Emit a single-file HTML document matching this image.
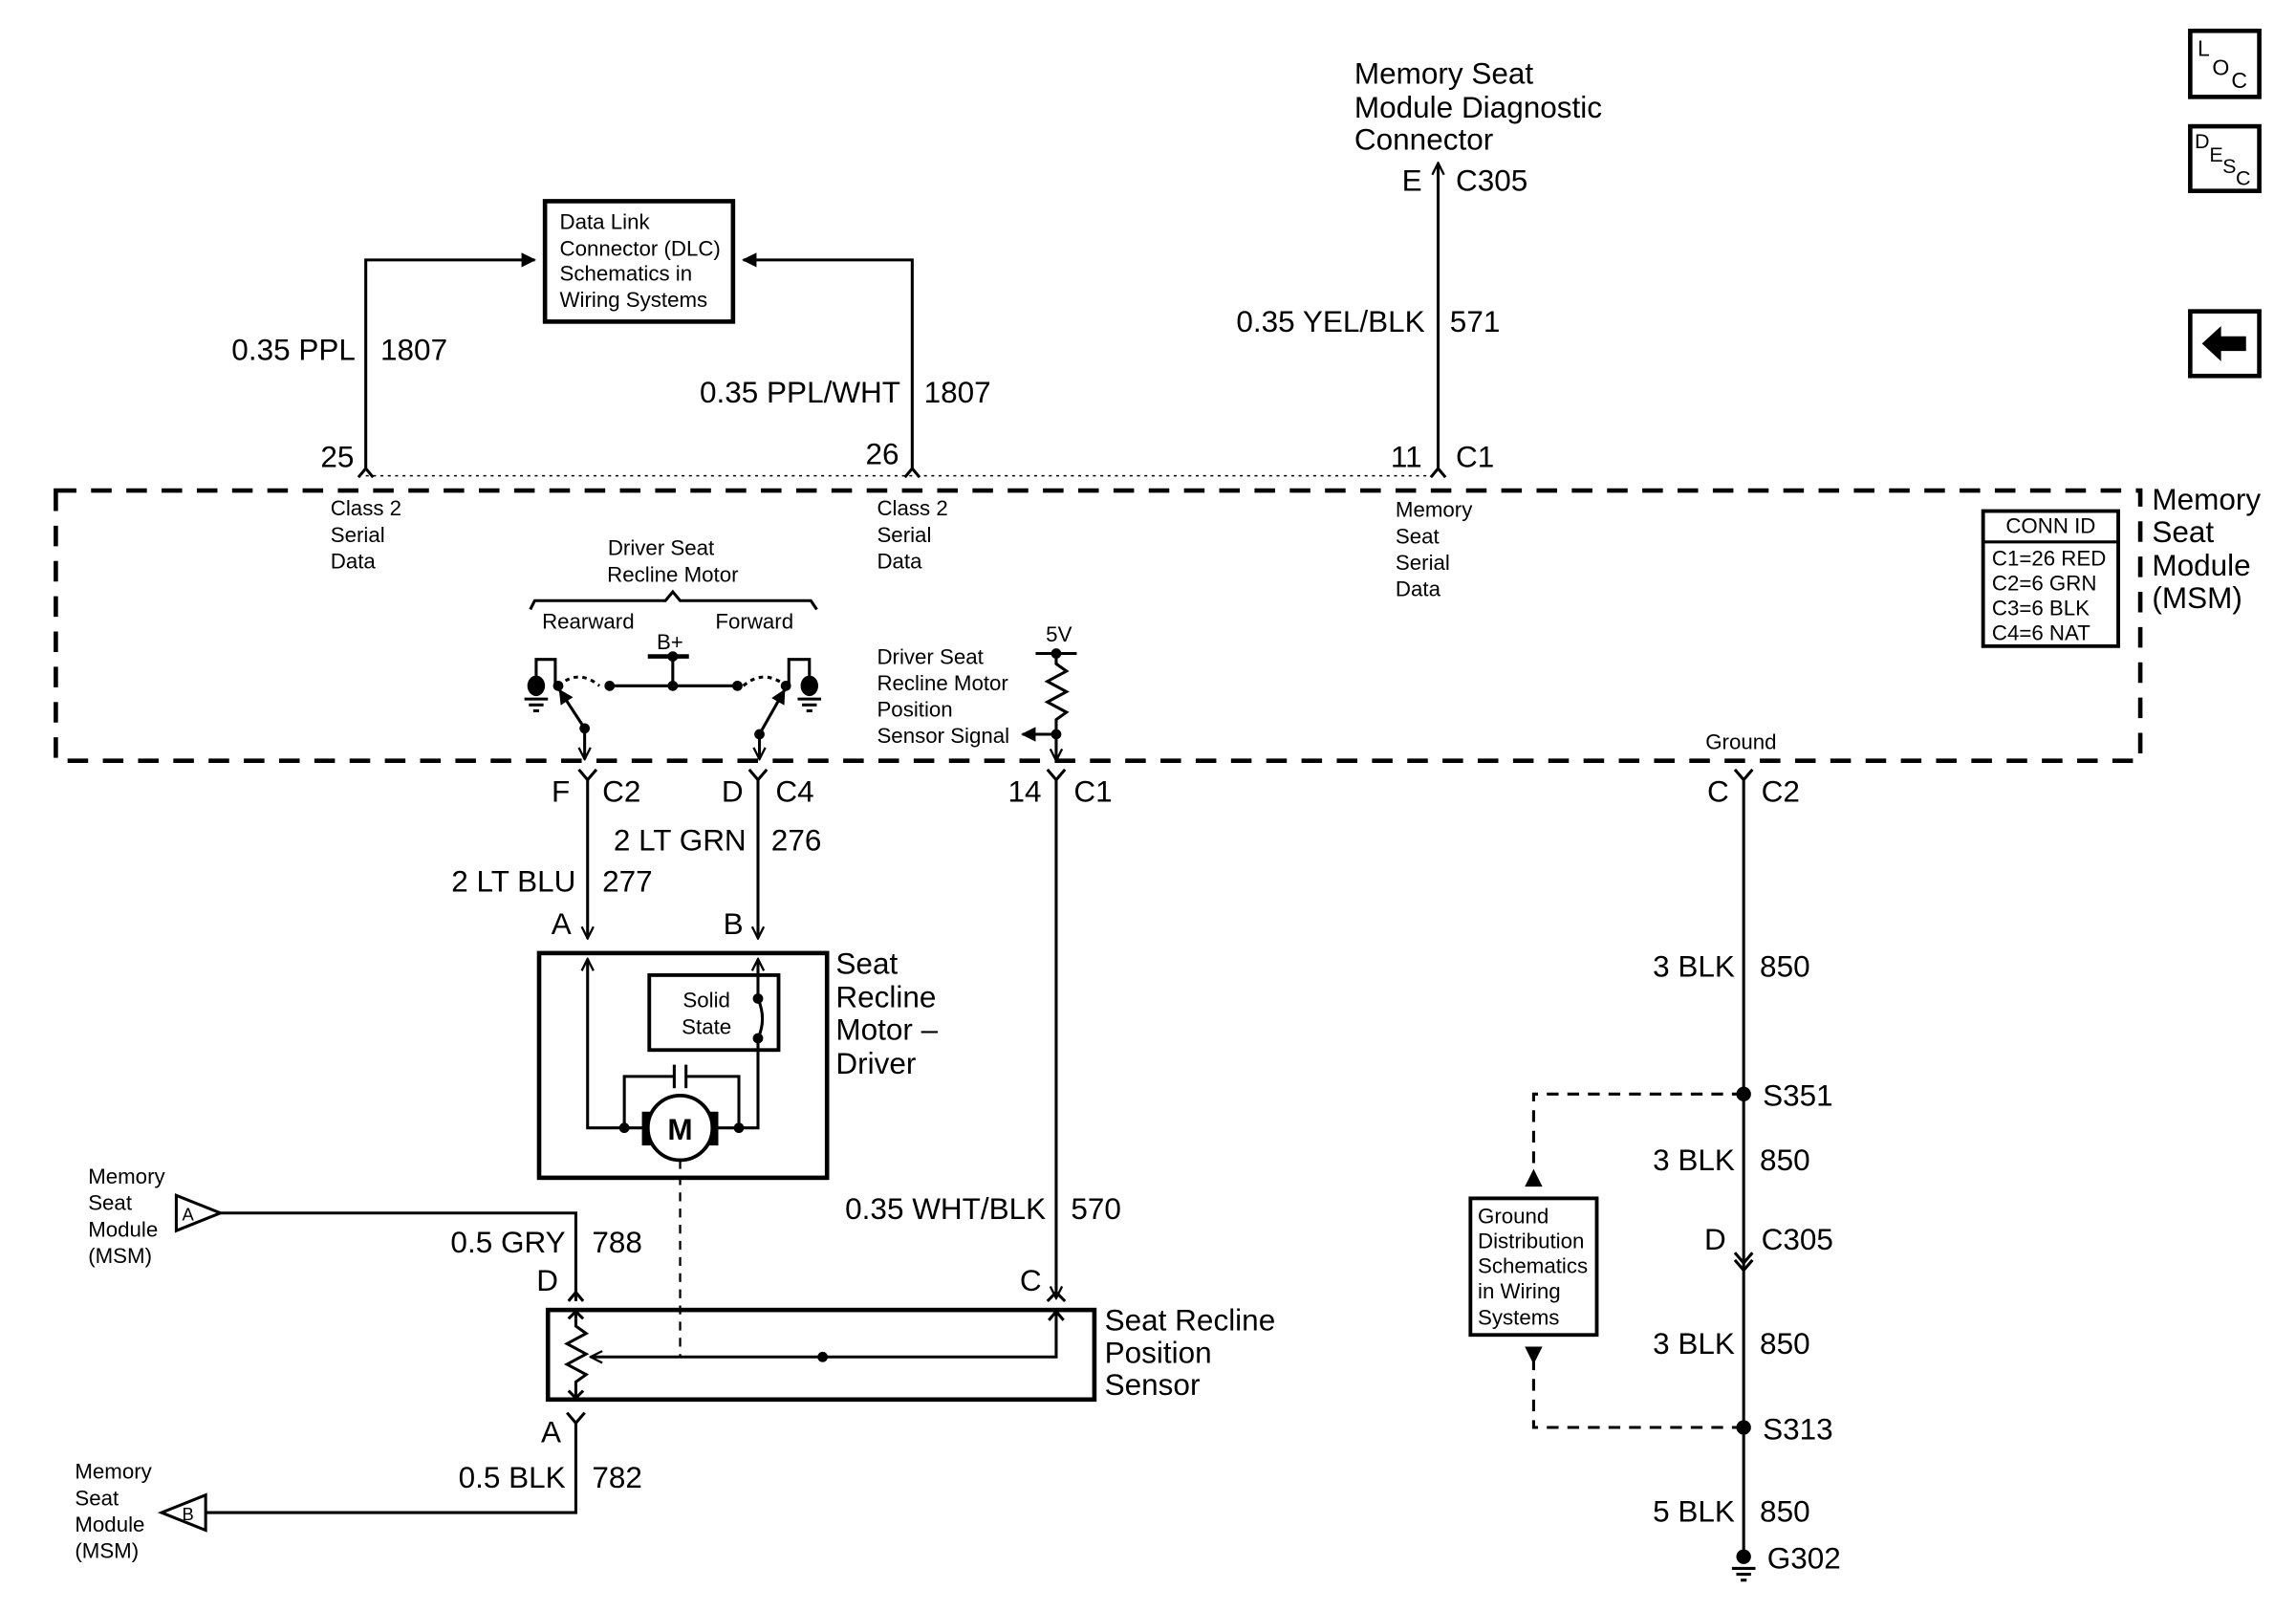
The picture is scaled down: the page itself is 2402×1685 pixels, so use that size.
<!DOCTYPE html>
<html><head><meta charset="utf-8"><style>
html,body{margin:0;padding:0;background:#fff;}
svg{display:block;}
text{font-family:"Liberation Sans",Arial,sans-serif;fill:#000;}
.L{font-size:20.5px;}
.S{font-size:14.5px;}
</style></head><body>
<svg width="2402" height="1685" viewBox="0 0 1563 1097" preserveAspectRatio="none" xmlns="http://www.w3.org/2000/svg">
<defs>
<marker id="ar" markerWidth="10" markerHeight="10" refX="9" refY="5" orient="auto" markerUnits="userSpaceOnUse"><path d="M0,0 L10,5 L0,10 Z" fill="#000"/></marker>
<marker id="ao" markerWidth="10" markerHeight="10" refX="9" refY="5" orient="auto" markerUnits="userSpaceOnUse"><path d="M1,1 L9,5 L1,9" fill="none" stroke="#000" stroke-width="1.5"/></marker>
</defs>
<g stroke="#000" stroke-width="2" fill="none">
<rect x="38" y="334" width="1419" height="184" stroke-width="3" stroke-dasharray="14 10"/>
<line x1="249" y1="324" x2="979" y2="324" stroke-width="1" stroke-dasharray="2 3"/>
<polyline points="249,320 249,177 364,177" marker-end="url(#ar)"/>
<polyline points="621,320 621,177 506,177" marker-end="url(#ar)"/>
<rect x="371" y="137" width="128" height="82" stroke-width="3"/>
<line x1="979" y1="320" x2="979" y2="111" marker-end="url(#ao)"/>
<path d="M244,325 L249,319 L254,325 M616,325 L621,319 L626,325 M974,325 L979,319 L984,325"/>
<rect x="1350" y="348" width="92" height="92" stroke-width="2.5"/>
<line x1="1350" y1="369" x2="1442" y2="369"/>
<rect x="1491" y="21" width="47" height="45" stroke-width="3"/>
<rect x="1491" y="86" width="47" height="44" stroke-width="3"/>
<rect x="1491" y="212" width="47" height="44" stroke-width="3"/>
<path d="M361,415 L364,409 L453,409 L458,403 L463,409 L552,409 L556,415"/>
<line x1="441" y1="447" x2="469" y2="447" stroke-width="3"/>
<line x1="458" y1="447" x2="458" y2="467"/>
<line x1="415" y1="467" x2="502" y2="467"/>
<path d="M380,467 Q394,455 408,467" stroke-dasharray="3 3"/>
<path d="M506,467 Q520,455 535,467" stroke-dasharray="3 3"/>
<polyline points="365,463 365,449 378,449 378,467"/>
<line x1="357" y1="476" x2="373" y2="476"/><line x1="360" y1="480" x2="370" y2="480"/><line x1="363" y1="484" x2="367" y2="484"/>
<line x1="398" y1="496" x2="381" y2="470" marker-end="url(#ar)"/>
<line x1="398" y1="496" x2="398" y2="517" marker-end="url(#ao)"/>
<polyline points="551,463 551,449 537,449 537,467"/>
<line x1="543" y1="476" x2="559" y2="476"/><line x1="546" y1="480" x2="556" y2="480"/><line x1="549" y1="484" x2="553" y2="484"/>
<line x1="517" y1="500" x2="534" y2="470" marker-end="url(#ar)"/>
<line x1="517" y1="500" x2="517" y2="517" marker-end="url(#ao)"/>
<line x1="705" y1="445" x2="733" y2="445"/>
<polyline points="719,445 719,452 726,457 713,464 726,471 713,478 726,485 719,490 719,517" />
<line x1="719" y1="517" x2="719" y2="518" marker-end="url(#ao)"/>
<line x1="719" y1="500" x2="696" y2="500" marker-end="url(#ar)"/>
<path d="M394,524 L400,531 L406,524 M510,524 L516,531 L522,524 M713,524 L719,531 L725,524 M1181,524 L1187,531 L1193,524"/>
<line x1="400" y1="531" x2="400" y2="639" marker-end="url(#ao)"/>
<line x1="516" y1="531" x2="516" y2="639" marker-end="url(#ao)"/>
<line x1="719" y1="531" x2="719" y2="884" marker-end="url(#ao)"/>
<line x1="1187" y1="531" x2="1187" y2="1058"/>
<rect x="367" y="649" width="196" height="153" stroke-width="3"/>
<rect x="442" y="664" width="88" height="51" stroke-width="2.5"/>
<polyline points="440,768 400,768 400,653" marker-end="url(#ao)"/>
<polyline points="489,768 516,768 516,707"/>
<path d="M516,707 Q522,694 516,680"/>
<line x1="516" y1="680" x2="516" y2="653" marker-end="url(#ao)"/>
<polyline points="425,768 425,733 459,733"/>
<polyline points="503,768 503,733 467,733"/>
<line x1="459" y1="725" x2="459" y2="741"/><line x1="467" y1="725" x2="467" y2="741"/>
<line x1="463" y1="790" x2="463" y2="924" stroke-dasharray="6 5" stroke-width="1.5"/>
<path d="M120,814 L150,826 L120,838 Z"/>
<polyline points="150,826 392,826 392,886" />
<path d="M387,886 L392,880 L397,886"/>
<rect x="373" y="892" width="372" height="61" stroke-width="3"/>
<line x1="392" y1="893" x2="392" y2="898"/>
<polyline points="392,898 392,903 399,908 386,915 399,922 386,929 399,936 392,941 392,952"/>
<polyline points="719,893 719,924 402,924" marker-end="url(#ao)"/>
<path d="M714,899 L719,893 L724,899 M713,886 L719,880 L725,886"/>
<path d="M387,898 L392,893 L397,898 M387,947 L392,952 L397,947"/>
<path d="M386,962 L392,969 L398,962"/>
<polyline points="392,969 392,1030 140,1030"/>
<path d="M140,1018 L110,1030 L140,1042 Z"/>
<polyline points="1187,745 1044,745 1044,800" stroke-dasharray="8 6"/>
<polyline points="1044,925 1044,972 1187,972" stroke-dasharray="8 6"/>
<rect x="1001" y="816" width="86" height="93" stroke-width="2.5"/>
<path d="M1181,853 L1187,860 L1193,853 M1181,858 L1187,865 L1193,858"/>
<line x1="1179" y1="1068" x2="1195" y2="1068"/><line x1="1182" y1="1072" x2="1192" y2="1072"/><line x1="1185" y1="1076" x2="1189" y2="1076"/>
</g>
<g fill="#000">
<circle cx="415" cy="467" r="3.5"/><circle cx="458" cy="467" r="3.5"/><circle cx="502" cy="467" r="3.5"/><circle cx="458" cy="447" r="3.5"/>
<circle cx="380" cy="467" r="3.5"/><circle cx="535" cy="467" r="3.5"/><circle cx="398" cy="496" r="3.5"/><circle cx="517" cy="500" r="3.5"/>
<ellipse cx="365" cy="467" rx="6" ry="7"/><ellipse cx="551" cy="467" rx="6" ry="7"/>
<circle cx="719" cy="445" r="3.5"/><circle cx="719" cy="500" r="3.5"/>
<circle cx="516" cy="680" r="3.5"/><circle cx="516" cy="707" r="3.5"/>
<circle cx="425" cy="768" r="3.5"/><circle cx="503" cy="768" r="3.5"/>
<rect x="437" y="757" width="52" height="23"/>
<circle cx="560" cy="924" r="3.5"/>
<circle cx="1187" cy="745" r="5"/><circle cx="1187" cy="972" r="5"/><circle cx="1187" cy="1060" r="5"/>
<path d="M1038,808 L1044,796 L1050,808 Z"/><path d="M1038,917 L1044,929 L1050,917 Z"/>
<path d="M1499,234 L1512,222 L1512,229 L1529,229 L1529,239 L1512,239 L1512,246 Z"/>
</g>
<circle cx="463" cy="768" r="22" fill="#fff" stroke="#000" stroke-width="2.5"/>
<text x="463" y="776" class="L" text-anchor="middle" font-weight="bold">M</text>
<g class="L">
<text x="922" y="57">Memory Seat</text><text x="922" y="80">Module Diagnostic</text><text x="922" y="102">Connector</text>
<text x="968" y="130" text-anchor="end">E</text><text x="991" y="130">C305</text>
<text x="970" y="226" text-anchor="end">0.35 YEL/BLK</text><text x="987" y="226">571</text>
<text x="968" y="318" text-anchor="end">11</text><text x="991" y="318">C1</text>
<text x="242" y="245" text-anchor="end">0.35 PPL</text><text x="259" y="245">1807</text>
<text x="613" y="274" text-anchor="end">0.35 PPL/WHT</text><text x="629" y="274">1807</text>
<text x="241" y="318" text-anchor="end">25</text><text x="612" y="316" text-anchor="end">26</text>
<text x="1465" y="347">Memory</text><text x="1465" y="369">Seat</text><text x="1465" y="392">Module</text><text x="1465" y="414">(MSM)</text>
<text x="388" y="546" text-anchor="end">F</text><text x="410" y="546">C2</text>
<text x="506" y="546" text-anchor="end">D</text><text x="528" y="546">C4</text>
<text x="709" y="546" text-anchor="end">14</text><text x="731" y="546">C1</text>
<text x="1177" y="546" text-anchor="end">C</text><text x="1199" y="546">C2</text>
<text x="508" y="579" text-anchor="end">2 LT GRN</text><text x="525" y="579">276</text>
<text x="392" y="607" text-anchor="end">2 LT BLU</text><text x="410" y="607">277</text>
<text x="389" y="636" text-anchor="end">A</text><text x="506" y="636" text-anchor="end">B</text>
<text x="569" y="663">Seat</text><text x="569" y="686">Recline</text><text x="569" y="708">Motor –</text><text x="569" y="731">Driver</text>
<text x="712" y="830" text-anchor="end">0.35 WHT/BLK</text><text x="729" y="830">570</text>
<text x="385" y="853" text-anchor="end">0.5 GRY</text><text x="403" y="853">788</text>
<text x="380" y="879" text-anchor="end">D</text><text x="709" y="879" text-anchor="end">C</text>
<text x="752" y="906">Seat Recline</text><text x="752" y="928">Position</text><text x="752" y="950">Sensor</text>
<text x="382" y="982" text-anchor="end">A</text>
<text x="385" y="1013" text-anchor="end">0.5 BLK</text><text x="403" y="1013">782</text>
<text x="1181" y="665" text-anchor="end">3 BLK</text><text x="1198" y="665">850</text>
<text x="1200" y="753">S351</text>
<text x="1181" y="797" text-anchor="end">3 BLK</text><text x="1198" y="797">850</text>
<text x="1175" y="851" text-anchor="end">D</text><text x="1199" y="851">C305</text>
<text x="1181" y="922" text-anchor="end">3 BLK</text><text x="1198" y="922">850</text>
<text x="1200" y="980">S313</text>
<text x="1181" y="1036" text-anchor="end">5 BLK</text><text x="1198" y="1036">850</text>
<text x="1203" y="1068">G302</text>
</g>
<g class="S">
<text x="381" y="156">Data Link</text><text x="381" y="174">Connector (DLC)</text><text x="381" y="191">Schematics in</text><text x="381" y="209">Wiring Systems</text>
<text x="225" y="351">Class 2</text><text x="225" y="369">Serial</text><text x="225" y="387">Data</text>
<text x="597" y="351">Class 2</text><text x="597" y="369">Serial</text><text x="597" y="387">Data</text>
<text x="950" y="352">Memory</text><text x="950" y="370">Seat</text><text x="950" y="388">Serial</text><text x="950" y="406">Data</text>
<text x="1396" y="363" text-anchor="middle">CONN ID</text>
<text x="1356" y="385">C1=26 RED</text><text x="1356" y="402">C2=6  GRN</text><text x="1356" y="419">C3=6  BLK</text><text x="1356" y="436">C4=6  NAT</text>
<text x="450" y="378" text-anchor="middle">Driver Seat</text><text x="458" y="396" text-anchor="middle">Recline Motor</text>
<text x="369" y="428">Rearward</text><text x="487" y="428">Forward</text>
<text x="447" y="442">B+</text><text x="712" y="437">5V</text>
<text x="597" y="452">Driver Seat</text><text x="597" y="470">Recline Motor</text><text x="597" y="488">Position</text><text x="597" y="506">Sensor Signal</text>
<text x="1161" y="510">Ground</text>
<text x="481" y="686" text-anchor="middle">Solid</text><text x="481" y="704" text-anchor="middle">State</text>
<text x="60" y="806">Memory</text><text x="60" y="824">Seat</text><text x="60" y="842">Module</text><text x="60" y="860">(MSM)</text>
<text x="124" y="831" font-size="12">A</text>
<text x="51" y="1007">Memory</text><text x="51" y="1025">Seat</text><text x="51" y="1043">Module</text><text x="51" y="1061">(MSM)</text>
<text x="124" y="1035" font-size="12">B</text>
<text x="1006" y="833">Ground</text><text x="1006" y="850">Distribution</text><text x="1006" y="867">Schematics</text><text x="1006" y="884">in Wiring</text><text x="1006" y="902">Systems</text>
<text x="1496" y="38" font-size="15">L</text><text x="1506" y="51" font-size="15">O</text><text x="1519" y="60" font-size="15">C</text>
<text x="1494" y="101" font-size="14">D</text><text x="1504" y="110" font-size="14">E</text><text x="1513" y="118" font-size="14">S</text><text x="1522" y="126" font-size="14">C</text>
</g>
</svg>
</body></html>
